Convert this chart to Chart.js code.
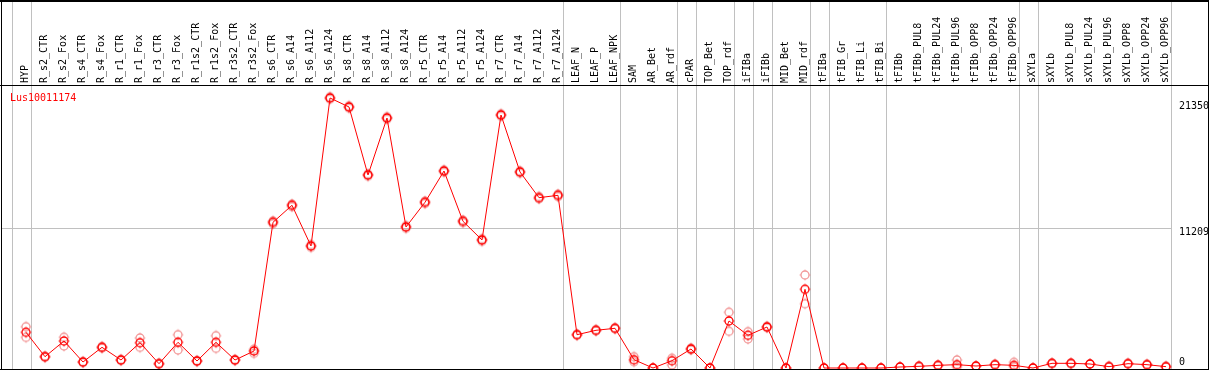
<!doctype html>
<html lang="en-us">
<head>
    <meta charset="utf-8">
    <title>Lus10011174 expression</title>
    <script src="https://cdn.jsdelivr.net/npm/chart.js"></script>
    <style>
        html, body { margin: 0; padding: 0; background: #fff; }
        #wrap { width: 1209px; height: 370px; position: relative; }
    </style>
</head>
<body>
<div id="wrap"><canvas id="expr_canvas"></canvas></div>
<script>
    const geneName = 'Lus10011174';
    const categories = ['HYP', 'R_s2_CTR', 'R_s2_Fox', 'R_s4_CTR', 'R_s4_Fox', 'R_r1_CTR', 'R_r1_Fox',
        'R_r3_CTR', 'R_r3_Fox', 'R_r1s2_CTR', 'R_r1s2_Fox', 'R_r3s2_CTR', 'R_r3s2_Fox',
        'R_s6_CTR', 'R_s6_A14', 'R_s6_A112', 'R_s6_A124', 'R_s8_CTR', 'R_s8_A14', 'R_s8_A112', 'R_s8_A124',
        'R_r5_CTR', 'R_r5_A14', 'R_r5_A112', 'R_r5_A124', 'R_r7_CTR', 'R_r7_A14', 'R_r7_A112', 'R_r7_A124',
        'LEAF_N', 'LEAF_P', 'LEAF_NPK', 'SAM', 'AR_Bet', 'AR_rdf', 'cPAR', 'TOP_Bet', 'TOP_rdf',
        'iFIBa', 'iFIBb', 'MID_Bet', 'MID_rdf', 'tFIBa', 'tFIB_Gr', 'tFIB_Li', 'tFIB_Bi',
        'tFIBb', 'tFIBb_PUL8', 'tFIBb_PUL24', 'tFIBb_PUL96', 'tFIBb_OPP8', 'tFIBb_OPP24', 'tFIBb_OPP96',
        'sXYLa', 'sXYLb', 'sXYLb_PUL8', 'sXYLb_PUL24', 'sXYLb_PUL96', 'sXYLb_OPP8', 'sXYLb_OPP24', 'sXYLb_OPP96'];
    // mean expression
    const meanValues = [2865, 907, 2166, 481, 1661, 642, 2030, 345, 2062, 562, 2062, 642, 1364,
        11691, 13055, 9789, 21665, 20943, 15486, 20060, 11314,
        13296, 15807, 11771, 10271, 20301, 15727, 13665, 13857,
        2672, 3025, 3185, 666, 0, 586, 1525, 0, 3771,
        2624, 3290, 0, 6315, 0, 0, 0, 0,
        80, 134, 214, 268, 160, 268, 214,
        0, 375, 375, 321, 107, 348, 268, 107];
    // replicates (faint markers)
    const repHigh = [3310, 950, 2463, 520, 1720, 690, 2407, 380, 2672, 600, 2592, 690, 1500,
        11800, 13150, 9900, 21760, 21040, 15580, 20160, 11420,
        13390, 15900, 11870, 10370, 20400, 15820, 13760, 13950,
        2720, 3080, 3230, 907, 0, 778, 1600, 0, 4469,
        2913, 3350, 0, 7462, 0, 0, 0, 0,
        80, 134, 214, 642, 160, 268, 455,
        0, 375, 375, 321, 107, 348, 268, 107];
    const repLow = [2460, 860, 1765, 440, 1600, 600, 1661, 310, 1444, 520, 1581, 600, 1180,
        11580, 12950, 9680, 21570, 20850, 15390, 19960, 11210,
        13200, 15710, 11670, 10170, 20200, 15630, 13570, 13760,
        2620, 2970, 3140, 505, 0, 241, 1450, 0, 2945,
        2327, 3230, 0, 5160, 0, 0, 0, 0,
        80, 134, 214, 80, 160, 268, 100,
        0, 375, 375, 321, 107, 348, 268, 107];
    const yTickValues = [0, 11209, 21350];
    // separators are drawn right after these categories (plus one before the first)
    const groupEnds = ['HYP', 'R_r7_A124', 'LEAF_NPK', 'AR_rdf', 'cPAR', 'TOP_rdf', 'iFIBa', 'iFIBb',
        'MID_rdf', 'tFIBa', 'tFIB_Bi', 'tFIBb_OPP96', 'sXYLa', 'sXYLb_OPP96'];

    const monoFont = '"DejaVu Sans Mono", "Liberation Mono", monospace';

    // small circle with little ticks at the four sides
    function makeMarker(color) {
        const c = document.createElement('canvas');
        c.width = 14; c.height = 14;
        const g = c.getContext('2d');
        g.strokeStyle = color;
        g.lineWidth = 1.3;
        g.beginPath();
        g.arc(7, 7, 4, 0, Math.PI * 2);
        g.stroke();
        g.lineWidth = 1;
        g.beginPath();
        g.moveTo(7, 1.6); g.lineTo(7, 2.6);
        g.moveTo(7, 11.4); g.lineTo(7, 12.4);
        g.moveTo(1.6, 7); g.lineTo(2.6, 7);
        g.moveTo(11.4, 7); g.lineTo(12.4, 7);
        g.stroke();
        return c;
    }
    const mainMarker = makeMarker('#ff0000');
    const repMarker = makeMarker('rgba(236,110,110,0.7)');

    const framePlugin = {
        id: 'frame',
        beforeDatasetsDraw(chart) {
            const ctx = chart.ctx;
            const x = chart.scales.x, y = chart.scales.y;
            ctx.save();
            ctx.fillStyle = '#c0c0c0';
            // horizontal grid line at the middle tick
            const gy = Math.round(y.getPixelForValue(yTickValues[1]));
            const lastX = x.getPixelForValue(categories.length - 1) + 4.5;
            ctx.fillRect(1, gy, Math.round(lastX) - 1, 1);
            // vertical group separators
            const step = x.getPixelForValue(1) - x.getPixelForValue(0);
            const seps = [x.getPixelForValue(0) - step + 4.5];
            groupEnds.forEach(name => seps.push(x.getPixelForValue(categories.indexOf(name)) + 4.5));
            seps.forEach(px => ctx.fillRect(Math.round(px), 0, 1, chart.height));
            ctx.restore();
        },
        afterDraw(chart) {
            const ctx = chart.ctx;
            const y = chart.scales.y;
            const W = chart.width, H = chart.height;
            ctx.save();
            ctx.fillStyle = '#000';
            ctx.fillRect(0, 0, W, 2);
            ctx.fillRect(0, 85, W, 1);
            ctx.fillRect(0, H - 1, W, 1);
            ctx.fillRect(1, 0, 1, H);
            ctx.fillRect(W - 1, 0, 1, H);
            // y labels, right side
            ctx.font = '10px ' + monoFont;
            ctx.textAlign = 'left';
            ctx.textBaseline = 'middle';
            yTickValues.forEach(v => {
                const py = y.getPixelForValue(v);
                const ty = v === 0 ? py - 6 : py + 4.5;
                ctx.fillText(String(v), 1179, ty);
            });
            // gene name
            ctx.fillStyle = '#ff0000';
            ctx.fillText(chart.data.datasets[0].label, 10, 98);
            ctx.restore();
        }
    };

    new Chart(document.getElementById('expr_canvas'), {
        type: 'line',
        data: {
            labels: categories,
            datasets: [
                {
                    label: geneName,
                    data: meanValues,
                    borderColor: '#ff0000',
                    borderWidth: 1,
                    tension: 0,
                    pointStyle: mainMarker,
                    pointRadius: 4,
                    clip: false
                },
                {
                    label: 'rep1',
                    data: repHigh,
                    showLine: false,
                    pointStyle: repMarker,
                    pointRadius: 4,
                    clip: false
                },
                {
                    label: 'rep2',
                    data: repLow,
                    showLine: false,
                    pointStyle: repMarker,
                    pointRadius: 4,
                    clip: false
                }
            ]
        },
        options: {
            animation: false,
            responsive: true,
            maintainAspectRatio: false,
            layout: {
                autoPadding: false,
                padding: {left: 26, right: 43, top: 0, bottom: 2}
            },
            plugins: {
                legend: {display: false},
                tooltip: {enabled: false}
            },
            scales: {
                x: {
                    type: 'category',
                    position: 'top',
                    offset: false,
                    grid: {display: false, drawTicks: false},
                    border: {display: false},
                    ticks: {
                        autoSkip: false,
                        minRotation: 90,
                        maxRotation: 90,
                        padding: 3,
                        labelOffset: 11,
                        color: '#000',
                        font: {family: monoFont, size: 10}
                    },
                    afterFit(scale) { scale.height = 86; }
                },
                y: {
                    display: false,
                    min: 0,
                    max: 22627
                }
            }
        },
        plugins: [framePlugin]
    });
</script>
</body>
</html>
